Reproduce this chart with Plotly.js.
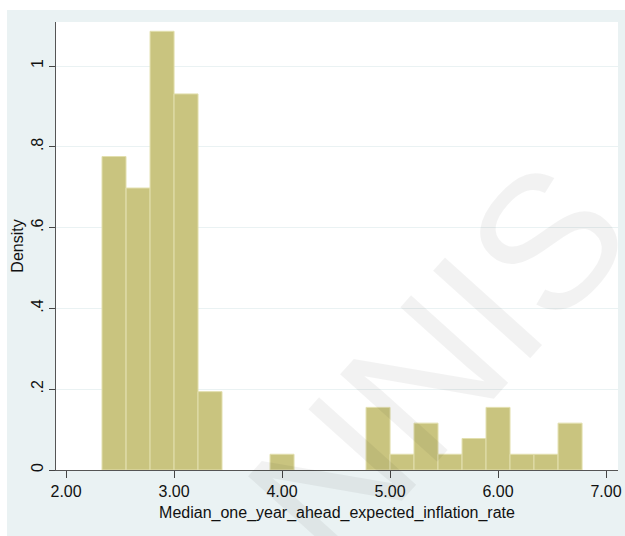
<!DOCTYPE html>
<html>
<head>
<meta charset="utf-8">
<script src="https://cdn.plot.ly/plotly-3.0.1.min.js"></script>
<style>
html,body{margin:0;padding:0;background:#ffffff;}
#chart{position:absolute;left:7px;top:10px;width:618px;height:526px;}
</style>
</head>
<body>
<div id="chart"></div>
<script>
// Histogram bins (left edges) and densities
const binLeft = [2.333, 2.556, 2.778, 3.000, 3.222, 3.889, 4.778, 5.000, 5.222, 5.444, 5.667, 5.889, 6.111, 6.333, 6.556];
const density = [0.776, 0.698, 1.086, 0.931, 0.194, 0.039, 0.155, 0.039, 0.116, 0.039, 0.078, 0.155, 0.039, 0.039, 0.116];
const binWidth = 0.2222;
const xTicks = [2, 3, 4, 5, 6, 7];
const yTicks = [0, 0.2, 0.4, 0.6, 0.8, 1];
const yTickText = ["0", ".2", ".4", ".6", ".8", "1"];
const xTitle = "Median_one_year_ahead_expected_inflation_rate";
const yTitle = "Density";

const trace = {
  type: "bar",
  x: binLeft,
  y: density,
  width: binWidth,
  offset: 0,
  marker: {color: "#c9c47f", line: {color: "#e2dfae", width: 1}},
  hoverinfo: "x+y"
};

const layout = {
  width: 618, height: 526,
  margin: {l: 49, r: 7, t: 12, b: 66},
  paper_bgcolor: "#eaf2f3",
  plot_bgcolor: "#ffffff",
  showlegend: false,
  font: {family: "Liberation Sans, Arial, sans-serif", size: 16, color: "#111"},
  xaxis: {
    range: [1.907, 7.111],
    tickvals: xTicks,
    tickformat: ".2f",
    ticks: "outside", ticklen: 7, tickcolor: "#444", tickwidth: 1,
    showgrid: false, zeroline: false,
    showline: true, linecolor: "#555", linewidth: 1,
    tickfont: {size: 16},
    title: {text: xTitle, font: {size: 16}, standoff: 7}
  },
  yaxis: {
    range: [0, 1.109],
    tickvals: yTicks,
    ticktext: yTickText,
    tickangle: -90,
    ticks: "outside", ticklen: 6, tickcolor: "#444", tickwidth: 1,
    showgrid: true, gridcolor: "#eaf2f3", gridwidth: 1,
    zeroline: false,
    showline: true, linecolor: "#555", linewidth: 1,
    tickfont: {size: 16},
    title: {text: yTitle, font: {size: 16}, standoff: 0}
  },
  annotations: [{
    xref: "paper", yref: "paper",
    x: 0.68, y: 0.24,
    xanchor: "center", yanchor: "middle",
    text: "NNIS",
    showarrow: false,
    textangle: -48,
    font: {family: "Liberation Sans, Arial, sans-serif", size: 190, color: "rgba(0,0,0,0.05)"}
  }]
};

Plotly.newPlot("chart", [trace], layout, {displayModeBar: false, staticPlot: true});
</script>
</body>
</html>
